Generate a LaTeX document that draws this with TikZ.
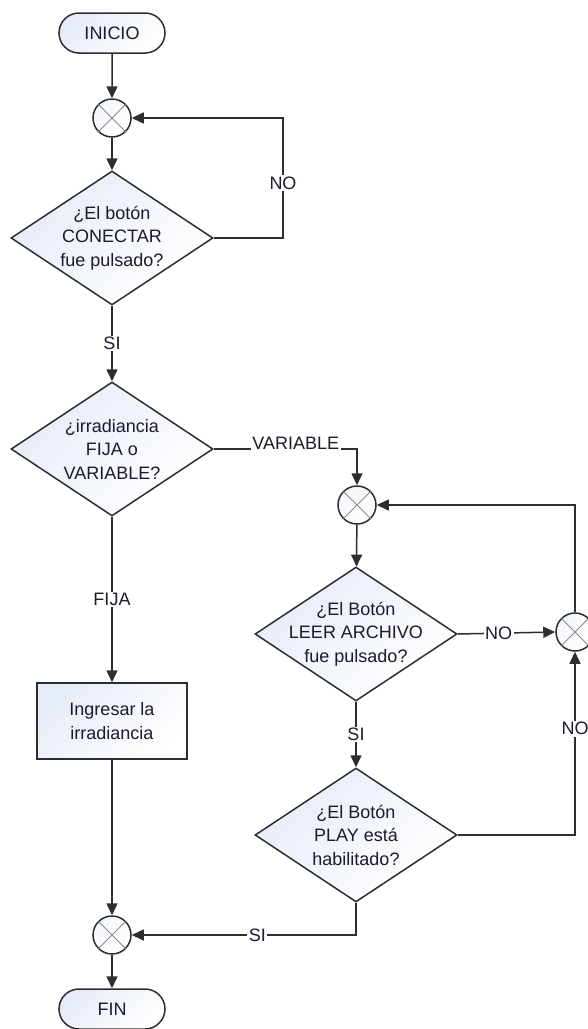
\documentclass[tikz,border=0pt]{standalone}
\usepackage{fontspec}
\setmainfont{Liberation Sans}
\usetikzlibrary{arrows.meta,shapes.geometric,shapes.misc}
\definecolor{linec}{HTML}{2E2E2E}
\definecolor{crossc}{HTML}{8A8A8A}
\definecolor{shadec}{HTML}{E6ECF7}
\definecolor{txtc}{HTML}{1C1A2C}
\newcommand{\fs}{\fontsize{18}{23.5}\selectfont}
\begin{document}
\begin{tikzpicture}[x=1pt,y=-1pt,
  every node/.style={font=\fs, text=txtc},
  shaded/.style={draw=linec, line width=1.5pt, top color=shadec, bottom color=white, shading angle=45},
  term/.style={shaded, rounded rectangle, minimum width=106pt, minimum height=40pt, inner sep=0pt},
  proc/.style={shaded, rectangle, minimum width=150pt, minimum height=76pt, align=center, inner sep=0pt},
  dec/.style={shaded, diamond, minimum width=202pt, minimum height=134pt, inner sep=0pt},
  dectext/.style={align=center, inner sep=0pt},
  junc/.style={draw=linec, line width=1.5pt, top color=shadec!50, bottom color=white, shading angle=45,
               circle, minimum size=38pt, inner sep=0pt},
  lab/.style={fill=white, inner sep=1.5pt},
  arr/.style={draw=linec, line width=1.5pt, -{Triangle[length=12pt,width=11pt]}},
]
\useasboundingbox (0,0) rectangle (588,1029);

% shapes
\node[term] (ini) at (112,33) {INICIO};
\node[junc] (c1) at (112,118) {};
\node[dec, label={[dectext]center:{¿El botón\\CONECTAR\\fue pulsado?}}] (d1) at (112,238) {};
\node[dec, label={[dectext]center:{¿irradiancia\\FIJA o\\VARIABLE?}}] (d2) at (112,449) {};
\node[proc] (p1) at (112,721) {Ingresar la\\irradiancia};
\node[junc] (c4) at (112,935) {};
\node[term] (fin) at (112,1009) {FIN};

\node[junc] (c2) at (357,505) {};
\node[dec, label={[dectext]center:{¿El Botón\\LEER ARCHIVO\\fue pulsado?}}] (d3) at (356,634) {};
\node[junc] (c3) at (575,632) {};
\node[dec, label={[dectext]center:{¿El Botón\\PLAY está\\habilitado?}}] (d4) at (356,835) {};

% crosses inside the junction circles
\foreach \c in {c1,c2,c3,c4}{
  \draw[crossc, line width=1pt] (\c.north west) -- (\c.south east)
                                (\c.north east) -- (\c.south west);
}

\coordinate (n1) at (283,118);

% connectors
\draw[arr] (ini) -- (c1);
\draw[arr] (c1) -- (d1);
\draw[arr] (d1.east) -| node[lab, pos=0.73] {NO} (n1) -- (c1.east);
\draw[arr] (d1) -- node[lab] {SI} (d2);
\draw[arr] (d2.east) -| node[lab, pos=0.286, anchor=base, inner ysep=1pt] {VARIABLE} (c2.north);
\draw[arr] (d2) -- node[lab] {FIJA} (p1);
\draw[arr] (p1) -- (c4);
\draw[arr] (c4) -- (fin);
\draw[arr] (c2) -- (d3);
\draw[arr] (d3.east) -- node[lab, pos=0.42] {NO} (c3.west);
\draw[arr] (c3.north) |- (c2.east);
\draw[arr] (d3) -- node[lab] {SI} (d4);
\draw[arr] (d4.east) -| node[lab, pos=0.79] {NO} (c3.south);
\draw[arr] (d4.south) |- node[lab, pos=0.72] {SI} (c4.east);
\end{tikzpicture}
\end{document}
